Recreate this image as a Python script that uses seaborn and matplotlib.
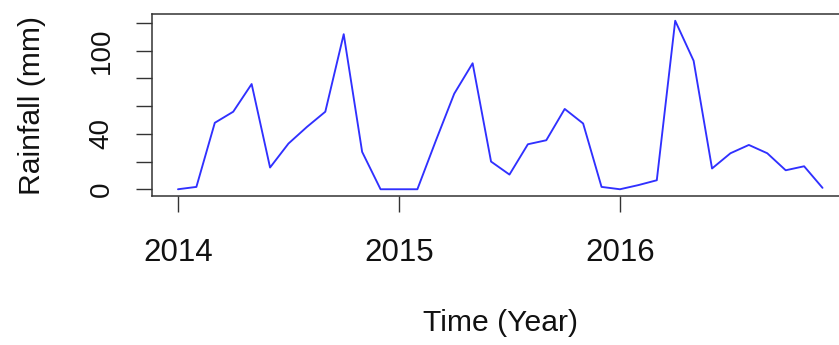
import numpy as np
import pandas as pd
import matplotlib
matplotlib.use("Agg")
import matplotlib.pyplot as plt
import seaborn as sns

# Monthly rainfall (mm), Jan 2014 - Dec 2016
years = [2014, 2015, 2016]
rain_2014 = [0, 1.7, 48, 56, 76, 15.7, 33, 45, 56, 112, 27, 0]
rain_2015 = [0, 0, 35, 69, 91, 20, 10.6, 32.5, 35.4, 58, 47.5, 1.7]
rain_2016 = [0, 3, 6.5, 121.7, 92.8, 15, 26, 32, 26, 13.7, 16.6, 1]

y_ticks = [0, 20, 40, 60, 80, 100, 120]
y_tick_labels = ["0", "", "40", "", "", "100", ""]

rain = rain_2014 + rain_2015 + rain_2016
time = [y + m / 12 for y in years for m in range(12)]
df = pd.DataFrame({"time": time, "rain": rain})

sns.set_theme(style="ticks")
plt.rcParams["font.family"] = ["Liberation Sans", "DejaVu Sans"]

fig = plt.figure(figsize=(8.39, 3.45), dpi=100)
ax = fig.add_axes([0.1814, 0.4319, 0.8297, 0.5275])

sns.lineplot(data=df, x="time", y="rain", color="#3030ff", lw=1.35, ax=ax)

# R-style 4% padding around the data range
tmin, tmax = min(time), max(time)
pad_x = 0.04 * (tmax - tmin)
ax.set_xlim(tmin - pad_x, tmax + pad_x)
rmin, rmax = min(rain), max(rain)
pad_y = 0.04 * (rmax - rmin)
ax.set_ylim(rmin - pad_y, rmax + pad_y)

ax.set_xticks(years)
ax.set_xticklabels([str(y) for y in years])
ax.set_yticks(y_ticks)
ax.set_yticklabels(y_tick_labels, rotation=90, va="center")

for s in ax.spines.values():
    s.set_visible(True)
    s.set_color("#333333")
    s.set_linewidth(1.1)

ax.tick_params(axis="both", direction="out", length=11.5, width=1.0,
               color="#333333", labelcolor="#111111")
ax.tick_params(axis="x", pad=19, labelsize=22.5)
ax.tick_params(axis="y", pad=15.5, labelsize=20)

ax.set_xlabel("Time (Year)", fontsize=21.7, color="#111111", labelpad=29.5)
ax.set_ylabel("Rainfall (mm)", fontsize=21.7, color="#111111", labelpad=31)

fig.savefig("out.png", dpi=100)
